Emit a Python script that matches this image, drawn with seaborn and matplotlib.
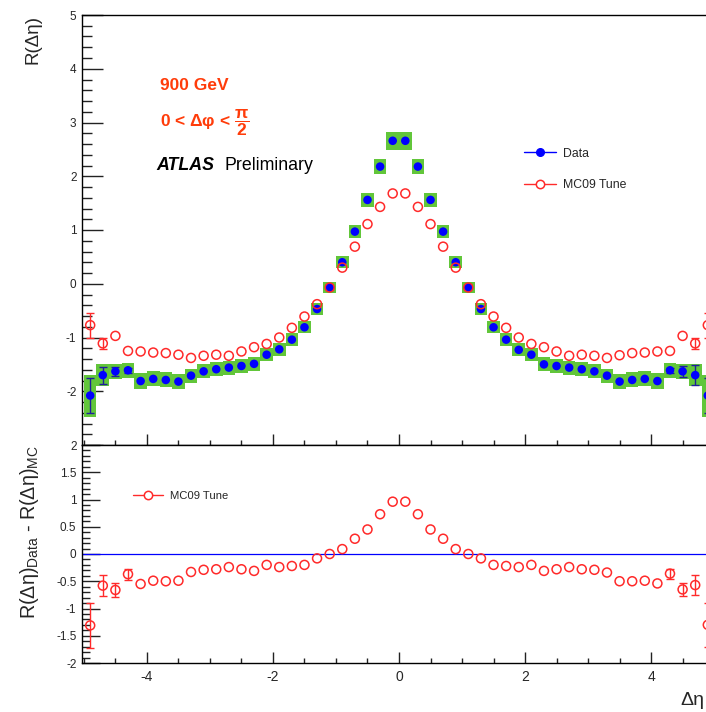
import matplotlib
matplotlib.use('Agg')
import matplotlib.pyplot as plt
import seaborn as sns
import pandas as pd
from matplotlib.lines import Line2D
from matplotlib.ticker import MultipleLocator, FixedLocator, FuncFormatter

# ---------------- data ----------------
eta = [-4.9, -4.7, -4.5, -4.3, -4.1, -3.9, -3.7, -3.5, -3.3, -3.1,
       -2.9, -2.7, -2.5, -2.3, -2.1, -1.9, -1.7, -1.5, -1.3, -1.1,
       -0.9, -0.7, -0.5, -0.3, -0.1, 0.1, 0.3, 0.5, 0.7, 0.9,
       1.1, 1.3, 1.5, 1.7, 1.9, 2.1, 2.3, 2.5, 2.7, 2.9,
       3.1, 3.3, 3.5, 3.7, 3.9, 4.1, 4.3, 4.5, 4.7, 4.9]

data_r = [-2.08, -1.70, -1.63, -1.61, -1.81, -1.77, -1.79, -1.82, -1.71, -1.63,
          -1.59, -1.56, -1.53, -1.49, -1.32, -1.22, -1.04, -0.81, -0.47, -0.07,
          0.40, 0.97, 1.56, 2.18, 2.66, 2.66, 2.18, 1.56, 0.97, 0.40,
          -0.07, -0.47, -0.81, -1.04, -1.23, -1.32, -1.50, -1.53, -1.56, -1.59,
          -1.63, -1.71, -1.82, -1.79, -1.77, -1.81, -1.61, -1.63, -1.70, -2.08]

# statistical errors; 0 = hidden inside the marker in the reference
data_stat = [0.33, 0.16, 0.08, 0.05, 0, 0, 0, 0, 0, 0,
             0, 0, 0, 0, 0, 0, 0, 0, 0, 0,
             0, 0, 0, 0, 0, 0, 0, 0, 0, 0,
             0, 0, 0, 0, 0, 0, 0, 0, 0, 0,
             0, 0, 0, 0, 0, 0, 0.05, 0.10, 0.18, 0.33]

data_syst = [0.39, 0.21, 0.145, 0.14, 0.155, 0.14, 0.14, 0.14, 0.13, 0.13,
             0.13, 0.13, 0.13, 0.13, 0.12, 0.12, 0.12, 0.11, 0.11, 0.10,
             0.11, 0.12, 0.125, 0.14, 0.165, 0.165, 0.14, 0.125, 0.12, 0.11,
             0.10, 0.11, 0.11, 0.12, 0.12, 0.12, 0.13, 0.13, 0.13, 0.13,
             0.13, 0.13, 0.14, 0.14, 0.14, 0.155, 0.14, 0.145, 0.21, 0.39]

mc_r = [-0.77, -1.11, -0.97, -1.25, -1.26, -1.28, -1.29, -1.32, -1.38, -1.34,
        -1.32, -1.34, -1.26, -1.18, -1.12, -1.00, -0.82, -0.61, -0.38, -0.07,
        0.30, 0.69, 1.11, 1.43, 1.68, 1.68, 1.43, 1.11, 0.69, 0.30,
        -0.07, -0.38, -0.61, -0.82, -1.00, -1.12, -1.18, -1.26, -1.34, -1.32,
        -1.34, -1.38, -1.33, -1.29, -1.28, -1.26, -1.25, -0.97, -1.11, -0.77]

mc_stat = [0.23, 0.10, 0, 0, 0, 0, 0, 0, 0, 0,
           0, 0, 0, 0, 0, 0, 0, 0, 0, 0,
           0, 0, 0, 0, 0, 0, 0, 0, 0, 0,
           0, 0, 0, 0, 0, 0, 0, 0, 0, 0,
           0, 0, 0, 0, 0, 0, 0, 0, 0.11, 0.23]

diff_r = [-1.31, -0.58, -0.66, -0.37, -0.55, -0.49, -0.50, -0.49, -0.33, -0.29,
          -0.28, -0.24, -0.28, -0.31, -0.20, -0.24, -0.22, -0.20, -0.08, 0.00,
          0.09, 0.28, 0.45, 0.73, 0.96, 0.96, 0.73, 0.45, 0.28, 0.09,
          0.00, -0.08, -0.20, -0.22, -0.24, -0.20, -0.31, -0.28, -0.24, -0.28,
          -0.29, -0.34, -0.50, -0.50, -0.49, -0.54, -0.36, -0.65, -0.57, -1.30]

diff_err = [0.41, 0.19, 0.13, 0.10, 0, 0, 0, 0, 0, 0,
            0, 0, 0, 0, 0, 0, 0, 0, 0, 0,
            0, 0, 0, 0, 0, 0, 0, 0, 0, 0,
            0, 0, 0, 0, 0, 0, 0, 0, 0, 0,
            0, 0, 0, 0, 0, 0, 0.09, 0.12, 0.19, 0.41]

top_yticks = [-3, -2, -1, 0, 1, 2, 3, 4, 5]
bot_yticks = [-2, -1.5, -1, -0.5, 0, 0.5, 1, 1.5, 2]
xticks = [-4, -2, 0, 2, 4]

df = pd.DataFrame({'eta': eta, 'data': data_r, 'stat': data_stat,
                   'syst': data_syst, 'mc': mc_r, 'mcerr': mc_stat,
                   'diff': diff_r, 'differr': diff_err})

# ---------------- style ----------------
sns.set_style('ticks')
plt.rcParams['font.family'] = ['Liberation Sans', 'DejaVu Sans']
plt.rcParams['axes.unicode_minus'] = False
plt.rcParams['mathtext.fontset'] = 'custom'
plt.rcParams['mathtext.rm'] = 'Liberation Sans'
plt.rcParams['mathtext.it'] = 'Liberation Sans:italic'
plt.rcParams['mathtext.bf'] = 'Liberation Sans:bold'

GREEN = '#62c63a'
BLUE = '#0000ff'
NAVY = '#1e1e9c'
RED = '#ff2a2a'
ORANGE = '#ff3c0a'

W, H = 706, 712
fig = plt.figure(figsize=(W / 100, H / 100), dpi=100)


def box(l, t, r, b):
    return [l / W, 1 - b / H, (r - l) / W, (b - t) / H]


ax1 = fig.add_axes(box(82, 15, 716, 445))
ax2 = fig.add_axes(box(82, 445, 716, 663))

# ---------------- top panel ----------------
ax1.bar(df['eta'], 2 * df['syst'], bottom=df['data'] - df['syst'], width=0.2,
        color=GREEN, linewidth=0, zorder=1)
e1 = df[df['stat'] > 0]
ax1.errorbar(e1['eta'], e1['data'], yerr=e1['stat'], fmt='none', ecolor=NAVY,
             elinewidth=1.0, capsize=3, capthick=1.0, zorder=2)
sns.scatterplot(data=df, x='eta', y='data', ax=ax1, color=BLUE, s=38,
                edgecolor='none', zorder=3, legend=False)
e2 = df[df['mcerr'] > 0]
ax1.errorbar(e2['eta'], e2['mc'], yerr=e2['mcerr'], fmt='none', ecolor=RED,
             elinewidth=1.0, capsize=3, capthick=1.0, zorder=4)
sns.scatterplot(data=df, x='eta', y='mc', ax=ax1, marker='o', s=42,
                facecolors='none', edgecolors=RED, linewidth=1.1, zorder=5,
                legend=False)

ax1.set_xlim(-5.03, 5.03)
ax1.set_ylim(-3, 5)
ax1.yaxis.set_major_locator(FixedLocator(top_yticks))
ax1.yaxis.set_minor_locator(MultipleLocator(0.2))
ax1.yaxis.set_major_formatter(FuncFormatter(lambda v, p: '' if v < -2.5 else '%g' % v))
ax1.xaxis.set_major_locator(FixedLocator(xticks))
ax1.xaxis.set_minor_locator(MultipleLocator(0.5))
ax1.tick_params(axis='x', which='both', labelbottom=False)
ax1.tick_params(which='both', direction='in', top=False, right=False,
                color='#222222', width=1.0, labelsize=8.5, pad=4)
ax1.tick_params(axis='y', which='major', length=15)
ax1.tick_params(axis='y', which='minor', length=7.2)
ax1.tick_params(axis='x', which='major', length=8)
ax1.tick_params(axis='x', which='minor', length=3.8)
ax1.set_xlabel('')
ax1.set_ylabel('R(Δη)', fontsize=13.5, loc='top')
ax1.yaxis.set_label_coords(-0.064, 1.0)

ax1.text(0.123, 0.835, '900 GeV', transform=ax1.transAxes, color=ORANGE,
         fontsize=12.5, fontweight='bold', va='center', ha='left')
ax1.text(0.123, 0.7395, r'0 < Δφ < $\mathbf{\dfrac{\pi}{2}}$', transform=ax1.transAxes,
         color=ORANGE, fontsize=12.5, fontweight='bold', va='baseline', ha='left')
ax1.text(0.1167, 0.6395, 'ATLAS', transform=ax1.transAxes, color='black',
         fontsize=12.8, fontweight='bold', fontstyle='italic', va='baseline', ha='left')
ax1.text(0.224, 0.6395, 'Preliminary', transform=ax1.transAxes, color='black',
         fontsize=12.8, va='baseline', ha='left')

h_data = Line2D([], [], color=BLUE, lw=1.0, marker='o', markersize=5.5,
                markerfacecolor=BLUE, markeredgecolor=BLUE)
h_mc = Line2D([], [], color=RED, lw=1.0, marker='o', markersize=6,
              markerfacecolor='white', markeredgecolor=RED, markeredgewidth=1.1)
ax1.legend([h_data, h_mc], ['Data', 'MC09 Tune'], loc='center left',
           bbox_to_anchor=(0.697, 0.6407), frameon=False, fontsize=8.8,
           handlelength=2.6, handletextpad=0.57, labelspacing=1.6,
           borderpad=0, borderaxespad=0)

for s in ax1.spines.values():
    s.set_color('black')
    s.set_linewidth(1.0)

# ---------------- bottom panel ----------------
ax2.axhline(0, color=BLUE, lw=0.9, zorder=1)
e3 = df[df['differr'] > 0]
ax2.errorbar(e3['eta'], e3['diff'], yerr=e3['differr'], fmt='none', ecolor=RED,
             elinewidth=1.0, capsize=3, capthick=1.0, zorder=2)
sns.scatterplot(data=df, x='eta', y='diff', ax=ax2, marker='o', s=42,
                facecolors='none', edgecolors=RED, linewidth=1.1, zorder=3,
                legend=False)

ax2.set_xlim(-5.03, 5.03)
ax2.set_ylim(-2, 2)
ax2.yaxis.set_major_locator(FixedLocator(bot_yticks))
ax2.yaxis.set_minor_locator(MultipleLocator(0.1))
ax2.yaxis.set_major_formatter(FuncFormatter(lambda v, p: '%g' % v))
ax2.xaxis.set_major_locator(FixedLocator(xticks))
ax2.xaxis.set_minor_locator(MultipleLocator(0.5))
ax2.xaxis.set_major_formatter(FuncFormatter(lambda v, p: '%g' % v))
ax2.tick_params(which='both', direction='in', top=False, right=False,
                color='#222222', width=1.0, labelsize=8.5, pad=4)
ax2.tick_params(axis='x', labelsize=10, pad=5)
ax2.tick_params(axis='y', which='major', length=12.7)
ax2.tick_params(axis='y', which='minor', length=5.8)
ax2.tick_params(axis='x', which='major', length=8)
ax2.tick_params(axis='x', which='minor', length=3.8)
ax2.set_ylabel(r'R(Δη)$_{\mathrm{Data}}$ - R(Δη)$_{\mathrm{MC}}$', fontsize=14.2, loc='top')
ax2.yaxis.set_label_coords(-0.064, 1.0)
ax2.set_xlabel('Δη', fontsize=14, loc='right')
ax2.xaxis.set_label_coords(0.981, -0.133)

h_mc2 = Line2D([], [], color=RED, lw=1.0, marker='o', markersize=6,
               markerfacecolor='white', markeredgecolor=RED, markeredgewidth=1.1)
ax2.legend([h_mc2], ['MC09 Tune'], loc='center left',
           bbox_to_anchor=(0.0804, 0.766), frameon=False, fontsize=8.1,
           handlelength=2.67, handletextpad=0.62, borderpad=0, borderaxespad=0)

for s in ax2.spines.values():
    s.set_color('black')
    s.set_linewidth(1.0)

fig.savefig('out.png', dpi=100)
